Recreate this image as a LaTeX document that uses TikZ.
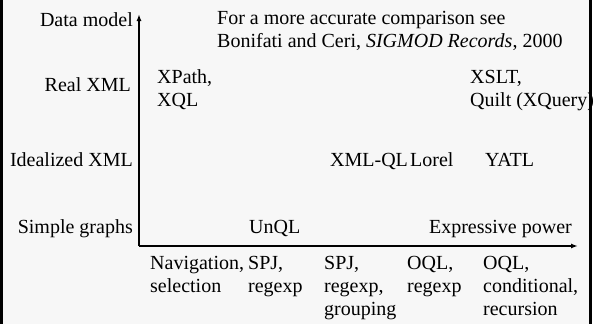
\documentclass[tikz,border=0pt]{standalone}
\usepackage{fontspec}
\setmainfont{Liberation Serif}
\usetikzlibrary{arrows.meta}
\begin{document}
\begin{tikzpicture}[x=1pt,y=1pt,
  lbl/.style={inner sep=0pt,font=\fontsize{20}{23}\selectfont,align=left},
  axis/.style={line width=2pt,-{Latex[length=7pt,width=5pt]}}]
\useasboundingbox (0,0) rectangle (603,-324);
\fill[black!3] (1.5,0) rectangle (590.5,-324);
% axes
\coordinate (origin) at (139,-246);
\coordinate (ytop) at (139,-14);
\coordinate (xend) at (578,-246);
\draw[axis] (origin) -- (ytop);
\draw[axis] (origin) -- (xend);
% data model levels
\node[lbl,anchor=base east] (datamodel) at (133,-27) {Data model};
\node[lbl,anchor=base east] (realxml) at (131,-91) {Real XML};
\node[lbl,anchor=base east] (idealxml) at (133,-166) {Idealized XML};
\node[lbl,anchor=base east] (simple) at (133,-233) {Simple graphs};
\node[lbl,anchor=base east] (power) at (572,-233) {Expressive power};
% note (base = last line)
\node[lbl,anchor=base west] (note) at (217,-47) {For a more accurate comparison see\\
  Bonifati and Ceri, \textit{SIGMOD Records}, 2000};
% languages
\node[lbl,anchor=base west] (xpath) at (157,-106) {XPath,\\XQL};
\node[lbl,anchor=base west] (xslt) at (470,-106) {XSLT,\\Quilt (XQuery)};
\node[lbl,anchor=base west] (xmlql) at (330,-166) {XML-QL};
\node[lbl,anchor=base west] (lorel) at (410,-166) {Lorel};
\node[lbl,anchor=base west] (yatl) at (485,-166) {YATL};
\node[lbl,anchor=base west] (unql) at (249,-233) {UnQL};
% expressive power levels
\foreach \x/\y/\txt [count=\i] in {150/292/{Navigation,\\selection}, 248/292/{SPJ,\\regexp},
  324/315/{SPJ,\\regexp,\\grouping}, 407/292/{OQL,\\regexp}, 483/315/{OQL,\\conditional,\\recursion}}
  \node[lbl,anchor=base west] (pow\i) at (\x,-\y) {\txt};
% frame
\draw[line width=3pt] (1.5,0) -- (1.5,-324) (590.5,0) -- (590.5,-324);
\end{tikzpicture}
\end{document}
